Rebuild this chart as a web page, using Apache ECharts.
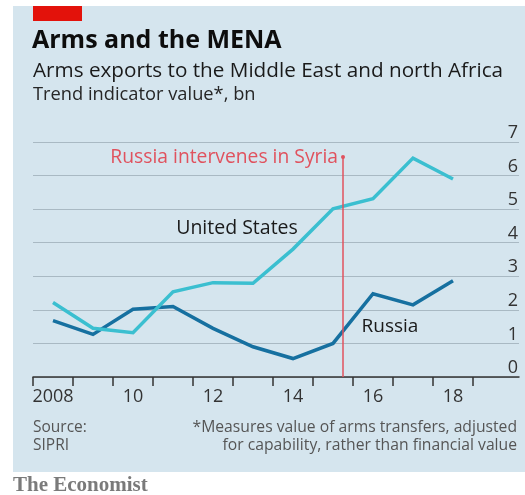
<!DOCTYPE html>
<html>
<head>
<meta charset="utf-8">
<script src="https://cdn.jsdelivr.net/npm/echarts@6/dist/echarts.min.js"></script>
<style>
  html, body { margin: 0; padding: 0; background: #fff; }
  #chart { width: 525px; height: 495px; }
</style>
</head>
<body>
<div id="chart"></div>
<script>
// 数据
var years = ['2008', '2009', '2010', '2011', '2012', '2013', '2014', '2015', '2016', '2017', '2018'];
var usValues = [2.22, 1.45, 1.32, 2.54, 2.81, 2.79, 3.81, 5.01, 5.31, 6.52, 5.90];
var russiaValues = [1.68, 1.27, 2.02, 2.10, 1.45, 0.90, 0.55, 1.00, 2.48, 2.15, 2.87];
var yTicks = [0, 1, 2, 3, 4, 5, 6, 7];
var interventionDate = 2015.75; // 2015年9月底
var interventionTop = 6.55;

var font = '"Open Sans", Lato, sans-serif';
var myChart = echarts.init(document.getElementById('chart'));

var option = {
	backgroundColor: '#ffffff',
	animation: false,
	graphic: [
		{ type: 'rect', z: -10, shape: { x: 13, y: 6, width: 512, height: 466 }, style: { fill: '#d5e5ee' } },
		{ type: 'rect', z: -9, shape: { x: 33, y: 6, width: 49, height: 15 }, style: { fill: '#e3120b' } },
		{ type: 'text', left: 32, top: 28, style: { text: 'Arms and the MENA', font: 'bold 25px ' + font, fill: '#0d0d0d' } },
		{ type: 'text', left: 33, top: 61, style: { text: 'Arms exports to the Middle East and north Africa', font: '20.7px ' + font, fill: '#1a1a1a' } },
		{ type: 'text', left: 33, top: 86, style: { text: 'Trend indicator value*, bn', font: '18.3px ' + font, fill: '#262626' } },
		{ type: 'text', x: 237, y: 228, style: { text: 'United States', font: '19.5px ' + font, fill: '#1a1a1a', align: 'center', verticalAlign: 'middle' } },
		{ type: 'text', x: 390, y: 327, style: { text: 'Russia', font: '19px ' + font, fill: '#1a1a1a', align: 'center', verticalAlign: 'middle' } },
		{ type: 'text', x: 33, y: 419, style: { text: 'Source:\nSIPRI', font: '15.5px ' + font, fill: '#555555', lineHeight: 18, align: 'left', verticalAlign: 'top' } },
		{ type: 'text', x: 517, y: 419, style: { text: '*Measures value of arms transfers, adjusted\nfor capability, rather than financial value', font: '15.7px ' + font, fill: '#555555', lineHeight: 18, align: 'right', verticalAlign: 'top' } },
		{ type: 'text', x: 13, y: 475, style: { text: 'The Economist', font: 'bold 21px "Liberation Serif", "DejaVu Serif", serif', fill: '#7a7a7a', align: 'left', verticalAlign: 'top' } }
	],
	grid: [
		{ left: 33, right: 6, top: 142, bottom: 118 },
		{ left: 33, right: 52, top: 142, bottom: 118 }
	],
	xAxis: [
		{
			gridIndex: 0,
			type: 'value',
			min: 2008,
			max: 2020.15,
			axisLine: { show: true, lineStyle: { color: '#333333', width: 1.5 } },
			axisTick: { show: false },
			axisLabel: { show: false },
			splitLine: { show: false }
		},
		{
			gridIndex: 1,
			type: 'category',
			data: years,
			boundaryGap: true,
			axisLine: { show: false },
			axisTick: { show: true, interval: 0, length: 9, lineStyle: { color: '#333333', width: 1.5 } },
			axisLabel: {
				interval: 1,
				margin: 11,
				fontFamily: font,
				fontSize: 18,
				color: '#333333',
				formatter: function(v, i) {
					return i === 0 ? v : v.slice(2);
				}
			},
			splitLine: { show: false }
		}
	],
	yAxis: [
		{
			gridIndex: 0,
			type: 'value',
			position: 'right',
			min: yTicks[0],
			max: yTicks[yTicks.length - 1],
			interval: 1,
			axisLine: { show: false },
			axisTick: { show: false },
			axisLabel: {
				inside: true,
				margin: 1,
				align: 'right',
				verticalAlign: 'bottom',
				fontFamily: font,
				fontSize: 18,
				color: '#333333'
			},
			splitLine: { show: true, lineStyle: { color: '#a9b9c3', width: 1 } }
		},
		{
			gridIndex: 1,
			type: 'value',
			min: yTicks[0],
			max: yTicks[yTicks.length - 1],
			show: false
		}
	],
	series: [
		{
			name: 'Russia intervenes in Syria',
			type: 'line',
			xAxisIndex: 0,
			yAxisIndex: 0,
			data: [],
			z: 1,
			markLine: {
				silent: true,
				symbol: 'none',
				label: { show: false },
				lineStyle: { color: '#e0525e', width: 1.5, type: 'solid', opacity: 1 },
				data: [[{ coord: [interventionDate, 0] }, { coord: [interventionDate, interventionTop] }]]
			},
			markPoint: {
				silent: true,
				symbol: 'circle',
				symbolSize: 4,
				itemStyle: { color: '#e0525e' },
				label: {
					show: true,
					position: 'left',
					distance: 3,
					formatter: 'Russia intervenes in Syria',
					fontFamily: font,
					fontSize: 19.3,
					color: '#e0525e'
				},
				data: [{ coord: [interventionDate, interventionTop] }]
			}
		},
		{
			name: 'Russia',
			type: 'line',
			xAxisIndex: 1,
			yAxisIndex: 1,
			data: russiaValues,
			symbol: 'none',
			z: 3,
			lineStyle: { color: '#1670a0', width: 3.5, join: 'miter' }
		},
		{
			name: 'United States',
			type: 'line',
			xAxisIndex: 1,
			yAxisIndex: 1,
			data: usValues,
			symbol: 'none',
			z: 3,
			lineStyle: { color: '#3bbfd0', width: 3.5, join: 'miter' }
		}
	]
};
myChart.setOption(option);//渲染
</script>
</body>
</html>
